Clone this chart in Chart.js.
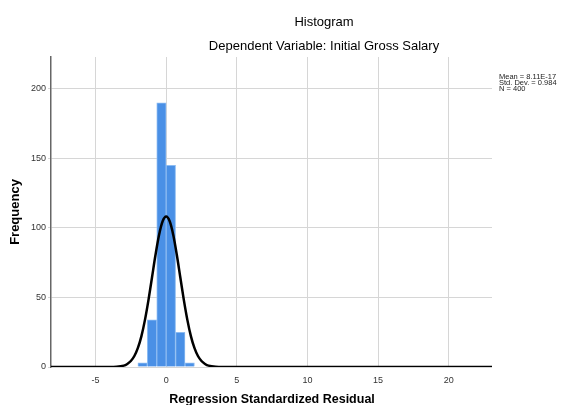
<!DOCTYPE html>
<html lang="en">
<head>
  <meta charset="UTF-8" />
  <title>Histogram - Regression Standardized Residual</title>
  <script src="https://cdn.jsdelivr.net/npm/chart.js"></script>
  <style>
    html, body {
      margin: 0;
      padding: 0;
      background: #fff;
      overflow: hidden;
    }
    #histo {
      display: block;
    }
  </style>
</head>
<body>
  <canvas id="histo" width="563" height="405"></canvas>

  <script>
    // bins of the residual histogram (centres, width 0.667)
    const binCenters = [-1.667, -1, -0.333, 0.333, 1, 1.667];
    const binCounts = [3, 34, 190, 145, 25, 3];

    // normal curve
    const curveX = [-8.15, -4, -3.5, -3, -2.75, -2.5, -2.25, -2, -1.75, -1.5, -1.25, -1, -0.75, -0.5, -0.25,
                    0, 0.25, 0.5, 0.75, 1, 1.25, 1.5, 1.75, 2, 2.25, 2.5, 2.75, 3, 3.5, 4, 23.06];
    const curveY = [0, 0, 0.2, 1, 2.2, 4.3, 7.9, 13.7, 22.2, 33.9, 48.3, 64.6, 80.9, 95.1, 104.8,
                    108.2, 104.8, 95.1, 80.9, 64.6, 48.3, 33.9, 22.2, 13.7, 7.9, 4.3, 2.2, 1, 0.2, 0, 0];

    const xTicks = [-5, 0, 5, 10, 15, 20];
    const yTicks = [0, 50, 100, 150, 200];

    const titleText = "Histogram";
    const subTitleText = "Dependent Variable: Initial Gross Salary";
    const statsText = ["Mean = 8.11E-17", "Std. Dev. = 0.984", "N = 400"];
    const xTitle = "Regression Standardized Residual";
    const yTitle = "Frequency";

    const FONT = "'Liberation Sans', Arial, sans-serif";

    // titles, axis titles and the stats box
    const textPlugin = {
      id: "spssText",
      afterDraw(chart) {
        const ctx = chart.ctx;
        ctx.save();
        ctx.fillStyle = "#000";
        ctx.textBaseline = "middle";
        ctx.textAlign = "center";
        ctx.font = "13px " + FONT;
        ctx.fillText(titleText, 324, 22);
        ctx.fillText(subTitleText, 324, 46);

        ctx.font = "bold 12.5px " + FONT;
        ctx.fillText(xTitle, 272, 400);

        ctx.save();
        ctx.translate(15, 212);
        ctx.rotate(-Math.PI / 2);
        ctx.font = "bold 13px " + FONT;
        ctx.fillText(yTitle, 0, 0);
        ctx.restore();

        ctx.textAlign = "left";
        ctx.font = "7.5px " + FONT;
        ctx.fillStyle = "#222";
        statsText.forEach((t, i) => ctx.fillText(t, 499, 77 + i * 6.2));
        ctx.restore();
      }
    };

    const ctx = document.getElementById("histo").getContext("2d");
    new Chart(ctx, {
      type: "bar",
      data: {
        datasets: [
          {
            type: "line",
            data: curveX.map((x, i) => ({ x, y: curveY[i] })),
            borderColor: "#000",
            borderWidth: 2.5,
            pointRadius: 0,
            tension: 0.3,
            fill: false,
            order: 0
          },
          {
            type: "bar",
            data: binCenters.map((x, i) => ({ x, y: binCounts[i] })),
            backgroundColor: "#4a90e6",
            borderColor: "#8dbcf2",
            borderWidth: 1,
            barPercentage: 1,
            categoryPercentage: 1,
            order: 1
          }
        ]
      },
      options: {
        responsive: false,
        animation: false,
        devicePixelRatio: 1,
        layout: { padding: { top: 57, right: 71, left: 0, bottom: 0 } },
        plugins: {
          legend: { display: false },
          tooltip: { enabled: false }
        },
        scales: {
          x: {
            type: "linear",
            min: -8.15,
            max: 23.06,
            offset: false,
            afterBuildTicks: s => { s.ticks = xTicks.map(v => ({ value: v })); },
            afterFit: s => { s.height = 38; },
            grid: { color: "#d6d6d6", drawTicks: false, offset: false },
            border: { display: false },
            ticks: { padding: 8, color: "#333", font: { size: 9, family: FONT } }
          },
          y: {
            min: 0,
            max: 223,
            afterBuildTicks: s => { s.ticks = yTicks.map(v => ({ value: v })); },
            afterFit: s => { s.width = 51; },
            grid: { color: "#d6d6d6", tickLength: 3 },
            border: { color: "#666", width: 1.5 },
            ticks: { padding: 2, color: "#333", font: { size: 9, family: FONT } }
          }
        }
      },
      plugins: [textPlugin]
    });
  </script>
</body>
</html>
